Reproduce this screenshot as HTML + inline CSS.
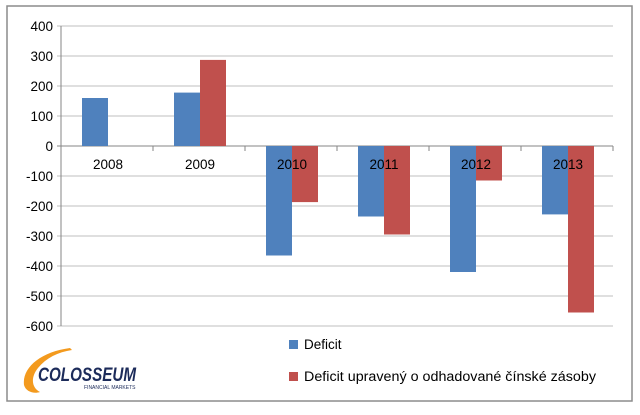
<!DOCTYPE html>
<html><head><meta charset="utf-8"><style>
body{margin:0;background:#fff;font-family:"Liberation Sans","DejaVu Sans",sans-serif;}
svg text{font-family:"Liberation Sans","DejaVu Sans",sans-serif;}
</style></head><body>
<svg id="c" width="640" height="410" xmlns="http://www.w3.org/2000/svg">
<rect x="7" y="6" width="625" height="395" fill="#fff" stroke="#8c8c8c" stroke-width="1.5"/>
<g id="grid"></g><g id="bars"></g><g id="labels"></g>
<g>
<rect x="289" y="340" width="9" height="9" fill="#4f81bd"/>
<text x="304" y="349" font-size="13.5">Deficit</text>
<rect x="289" y="372" width="9" height="9" fill="#c0504d"/>
<text x="304" y="381" font-size="13.5" textLength="292" lengthAdjust="spacingAndGlyphs">Deficit upravený o odhadované čínské zásoby</text>
</g>
<g>
<path d="M70 348 C40 352 22 368 24 385 C26 392 34 394 40 392 C32 388 30 378 38 368 C46 358 58 352 72 350 Z" fill="#f39a1e"/>
<text x="38" y="381" font-size="19" font-weight="bold" font-style="italic" fill="#1c2b5a" textLength="98" lengthAdjust="spacingAndGlyphs">COLOSSEUM</text>
<text x="84" y="389" font-size="5" fill="#1c2b5a">FINANCIAL MARKETS</text>
</g>
</svg>
<script>
const categories=["2008","2009","2010","2011","2012","2013"];
const deficit=[160,178,-365,-235,-420,-228];
const adjusted=[null,287,-187,-295,-115,-555];
const ticks=[400,300,200,100,0,-100,-200,-300,-400,-500,-600];
const NS="http://www.w3.org/2000/svg";
const X0=61,CW=92,yMax=400,yMin=-600,Y0=26,Y1=326;
const y=v=>Y0+(yMax-v)/(yMax-yMin)*(Y1-Y0);
const X=i=>X0+i*CW;
function mk(t,a,p){const e=document.createElementNS(NS,t);for(const k in a)e.setAttribute(k,a[k]);p.appendChild(e);return e;}
const g=document.getElementById('grid'),b=document.getElementById('bars'),l=document.getElementById('labels');
ticks.forEach(t=>{
 const ln=mk('line',{x1:X0-4,x2:X0+CW*6,y1:y(t),y2:y(t),stroke:t===0?'#868686':'#bfbfbf','stroke-width':1},g);
 
 
 const tx=mk('text',{x:X0-8,y:y(t)+5,'font-size':13.5,'text-anchor':'end'},l);tx.textContent=t;
 
 
});
const ax=mk('line',{x1:X0,x2:X0,y1:Y0,y2:Y1,stroke:'#868686'},g);


categories.forEach((c,i)=>{
 const tk=mk('line',{x1:X(i+1),x2:X(i+1),y1:y(0),y2:y(0)+5,stroke:'#868686'},g);
 
 
 [[deficit,'#4f81bd',21,'deficit'],[adjusted,'#c0504d',47,'adjusted']].forEach(([arr,col,off,nm])=>{
  const v=arr[i];if(v==null)return;
  const r=mk('rect',{x:X(i)+off,width:26,y:Math.min(y(v),y(0)),height:Math.abs(y(v)-y(0)),fill:col},b);
  
  
 });
 const tx=mk('text',{x:X(i)+47,y:y(0)+23,'font-size':13.5,'text-anchor':'middle'},l);tx.textContent=c;
 
 
});
</script>
</body></html>
